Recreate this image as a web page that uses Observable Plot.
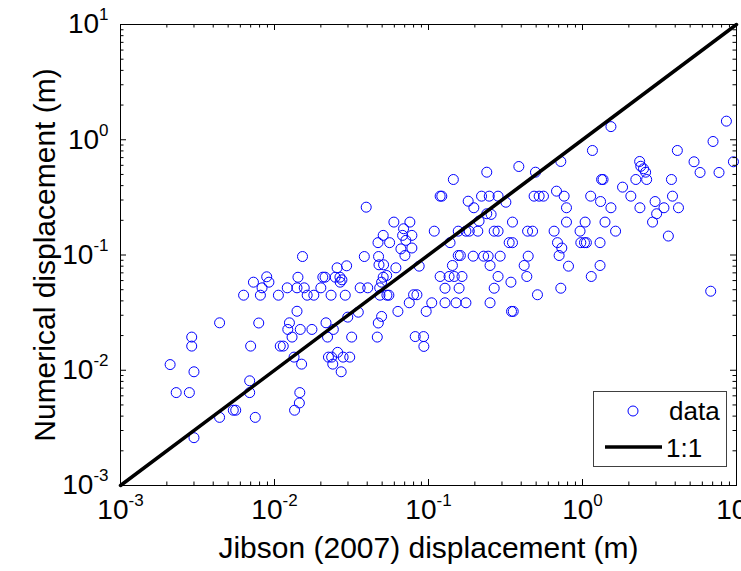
<!DOCTYPE html>
<html>
<head>
<meta charset="utf-8">
<script src="https://cdn.jsdelivr.net/npm/d3@7"></script>
<script src="https://cdn.jsdelivr.net/npm/@observablehq/plot@0.6"></script>
<style>
  body { margin: 0; background: #fff; }
  #chart { position: relative; width: 741px; height: 571px; overflow: hidden;
           font-family: "Liberation Sans", Arial, sans-serif; }
  #legend { position: absolute; left: 593px; top: 391px; }
</style>
</head>
<body>
<div id="chart"></div>
<script>
// Newmark sliding-block displacements: Jibson (2007) regression vs numerical analysis (m)
const jibson = [
  0.0073, 0.0063, 0.0044, 0.0029, 0.0029, 0.0070, 0.0021, 0.0030, 0.0069, 0.0023,
  0.0028, 0.0069, 0.0054, 0.0056, 0.0044, 0.0075, 0.0030,
  0.0394, 0.0596, 0.0508, 0.0470, 0.0559, 0.0152, 0.0383, 0.0474, 0.0477, 0.0511,
  0.0255, 0.0294, 0.0614, 0.0089, 0.0092, 0.0083, 0.0142, 0.0206, 0.0213, 0.0248,
  0.0266, 0.0274, 0.0267, 0.0508, 0.0496, 0.0535, 0.0121, 0.0140, 0.0156, 0.0200,
  0.0360, 0.0403, 0.0482, 0.0081, 0.0106, 0.0163, 0.0180, 0.0233, 0.0288, 0.0484,
  0.0537, 0.0553, 0.0140, 0.0350, 0.0633, 0.0079, 0.0125, 0.0216, 0.0122, 0.0147,
  0.0175, 0.0241, 0.0299, 0.0496, 0.0472, 0.0130, 0.0221, 0.0317, 0.0465, 0.0109,
  0.0114, 0.0134, 0.0150, 0.0224, 0.0235, 0.0257, 0.0279, 0.0308, 0.0239, 0.0271,
  0.0146, 0.0145, 0.0135,
  0.239, 0.386, 0.145, 0.495, 0.723, 0.119, 0.122, 0.181, 0.197, 0.221,
  0.248, 0.283, 0.318, 0.485, 0.523, 0.558, 0.678, 0.760, 0.787, 0.787,
  0.239, 0.255, 0.213, 0.351, 0.0757, 0.0689, 0.078, 0.0679, 0.0713, 0.078,
  0.0703, 0.109, 0.156, 0.175, 0.184, 0.209, 0.267, 0.283, 0.440, 0.474,
  0.654, 0.138, 0.334, 0.351, 0.688, 0.734, 0.705, 0.811, 0.087, 0.156,
  0.161, 0.195, 0.228, 0.244, 0.292, 0.444, 0.143, 0.251, 0.418, 0.119,
  0.136, 0.147, 0.165, 0.283, 0.435, 0.128, 0.158, 0.267, 0.343, 0.723,
  0.510, 0.080, 0.0841, 0.075, 0.105, 0.128, 0.151, 0.175, 0.251, 0.0966,
  0.346, 0.355, 0.082, 0.0929, 0.0933, 0.0662,
  1.53, 8.60, 7.04, 1.16, 4.13, 5.30, 9.55, 2.35, 2.39, 2.49,
  2.57, 5.80, 7.70, 1.33, 1.36, 2.22, 2.61, 3.78, 1.82, 2.06,
  1.13, 1.31, 1.53, 2.96, 3.84, 2.36, 3.38, 4.20, 3.03, 2.85,
  3.61, 1.04, 1.40, 0.964, 1.64, 0.975, 1.03, 1.06, 1.30, 1.30,
  1.14, 6.80
];
const numerical = [
  0.0581, 0.0448, 0.0258, 0.0194, 0.0162, 0.0162, 0.0112, 0.0097, 0.0081, 0.0064,
  0.0064, 0.0064, 0.0045, 0.0045, 0.0039, 0.0039, 0.0026,
  0.260, 0.193, 0.148, 0.128, 0.128, 0.097, 0.097, 0.097, 0.0822, 0.0822,
  0.0774, 0.0806, 0.0774, 0.0647, 0.0581, 0.0519, 0.0641, 0.0642, 0.0642, 0.0642,
  0.0642, 0.0609, 0.0581, 0.0642, 0.0581, 0.0664, 0.0519, 0.0519, 0.0519, 0.0519,
  0.0519, 0.0519, 0.0519, 0.0448, 0.0448, 0.0448, 0.0448, 0.0448, 0.0448, 0.0448,
  0.0448, 0.0448, 0.0325, 0.0319, 0.0324, 0.0257, 0.0258, 0.0258, 0.0226, 0.0226,
  0.0226, 0.0226, 0.0289, 0.0293, 0.0257, 0.0194, 0.0194, 0.0194, 0.0194, 0.0162,
  0.0162, 0.0130, 0.0113, 0.0130, 0.0130, 0.0143, 0.0130, 0.0130, 0.0113, 0.0097,
  0.0064, 0.0052, 0.0045,
  0.523, 0.586, 0.452, 0.523, 0.648, 0.324, 0.324, 0.293, 0.257, 0.324,
  0.324, 0.324, 0.287, 0.324, 0.324, 0.324, 0.358, 0.324, 0.257, 0.193,
  0.228, 0.225, 0.197, 0.193, 0.193, 0.169, 0.148, 0.148, 0.134, 0.115,
  0.099, 0.161, 0.161, 0.161, 0.161, 0.161, 0.161, 0.161, 0.161, 0.161,
  0.161, 0.128, 0.128, 0.128, 0.128, 0.115, 0.099, 0.080, 0.080, 0.099,
  0.099, 0.0977, 0.0977, 0.0977, 0.0977, 0.0977, 0.0811, 0.0811, 0.0811, 0.0651,
  0.0651, 0.0651, 0.0651, 0.0651, 0.0651, 0.0515, 0.0515, 0.0515, 0.0581, 0.0515,
  0.0452, 0.0452, 0.0452, 0.0385, 0.0385, 0.0385, 0.0385, 0.0385, 0.0385, 0.0324,
  0.0324, 0.0324, 0.0196, 0.0196, 0.0161, 0.113,
  1.30, 1.45, 0.966, 0.807, 0.807, 0.644, 0.644, 0.648, 0.589, 0.560,
  0.523, 0.520, 0.520, 0.452, 0.452, 0.452, 0.452, 0.452, 0.388, 0.324,
  0.324, 0.291, 0.257, 0.291, 0.324, 0.257, 0.257, 0.257, 0.228, 0.193,
  0.146, 0.193, 0.193, 0.161, 0.161, 0.128, 0.128, 0.128, 0.128, 0.0811,
  0.0651, 0.0485
];

// axis decades and the 1:1 reference line endpoints
const decades = [0.001, 0.01, 0.1, 1, 10];
const oneToOne = [0.001, 10];
const minorSteps = [2, 3, 4, 5, 6, 7, 8, 9];
const minorTicks = decades.slice(0, -1).flatMap(d => minorSteps.map(k => k * d));
const legendLabels = ["data", "1:1"];

const W = 741, H = 571;
const margin = {top: 24, right: 5, bottom: 86, left: 120};
const innerW = W - margin.left - margin.right;
const innerH = H - margin.top - margin.bottom;
const majorLen = 6, minorLen = 3.5;

const tickFmt = d => `10^${Math.round(Math.log10(d))}`;

// inward ticks on all four sides of the box
function boxTicks(values, len) {
  return [
    Plot.tickX(values, {x: d => d, insetTop: innerH - len, stroke: "black"}),
    Plot.tickX(values, {x: d => d, insetBottom: innerH - len, stroke: "black"}),
    Plot.tickY(values, {y: d => d, insetRight: innerW - len, stroke: "black"}),
    Plot.tickY(values, {y: d => d, insetLeft: innerW - len, stroke: "black"})
  ];
}

const points = d3.range(jibson.length);

const plot = Plot.plot({
  width: W,
  height: H,
  marginTop: margin.top,
  marginRight: margin.right,
  marginBottom: margin.bottom,
  marginLeft: margin.left,
  style: {fontFamily: '"Liberation Sans", Arial, sans-serif', color: "black", background: "white"},
  x: {type: "log", domain: [0.001, 10]},
  y: {type: "log", domain: [0.001, 10]},
  marks: [
    Plot.dot(points, {
      x: i => jibson[i], y: i => numerical[i],
      r: 5, stroke: "#0000ff", strokeWidth: 1, fill: "none"
    }),
    Plot.line(oneToOne, {x: d => d, y: d => d, stroke: "black", strokeWidth: 3.5}),
    Plot.frame({stroke: "black", strokeWidth: 1}),
    ...boxTicks(decades, majorLen),
    ...boxTicks(minorTicks, minorLen),
    Plot.axisX(decades, {anchor: "bottom", tickSize: 0, tickPadding: 14, fontSize: 28,
                         tickFormat: tickFmt, label: null}),
    Plot.axisY(decades, {anchor: "left", tickSize: 0, tickPadding: 12, fontSize: 28,
                         tickFormat: tickFmt, label: null}),
    Plot.text(["Jibson (2007) displacement (m)"], {
      text: d => d, frameAnchor: "bottom", textAnchor: "middle", lineAnchor: "middle",
      dy: 63, fontSize: 30, fill: "black"
    }),
    Plot.text(["Numerical displacement (m)"], {
      text: d => d, frameAnchor: "left", textAnchor: "middle", lineAnchor: "middle",
      dx: -75, rotate: -90, fontSize: 30, fill: "black"
    })
  ]
});

// turn "10^e" tick labels into a base with a raised exponent
plot.querySelectorAll('g[aria-label$="tick label"] text').forEach(t => {
  const [base, exp] = t.textContent.split("^");
  t.textContent = base;
  const sup = document.createElementNS("http://www.w3.org/2000/svg", "tspan");
  sup.setAttribute("dy", "-13");
  sup.setAttribute("font-size", "17");
  sup.textContent = exp;
  t.appendChild(sup);
});

const chart = document.getElementById("chart");
chart.appendChild(plot);

// legend box in the lower-right corner of the axes
const lg = d3.select(chart).append("svg")
  .attr("id", "legend").attr("width", 135).attr("height", 77)
  .style("font-family", '"Liberation Sans", Arial, sans-serif');
lg.append("rect").attr("x", 0.5).attr("y", 0.5).attr("width", 133).attr("height", 75)
  .attr("fill", "white").attr("stroke", "#404040");
lg.append("circle").attr("cx", 40).attr("cy", 20).attr("r", 5)
  .attr("fill", "none").attr("stroke", "#0000ff");
lg.append("text").attr("x", 76).attr("y", 29).attr("font-size", 26).text(legendLabels[0]);
lg.append("line").attr("x1", 12).attr("x2", 69).attr("y1", 56).attr("y2", 56)
  .attr("stroke", "black").attr("stroke-width", 3.5);
lg.append("text").attr("x", 73).attr("y", 66).attr("font-size", 26).text(legendLabels[1]);
</script>
</body>
</html>
